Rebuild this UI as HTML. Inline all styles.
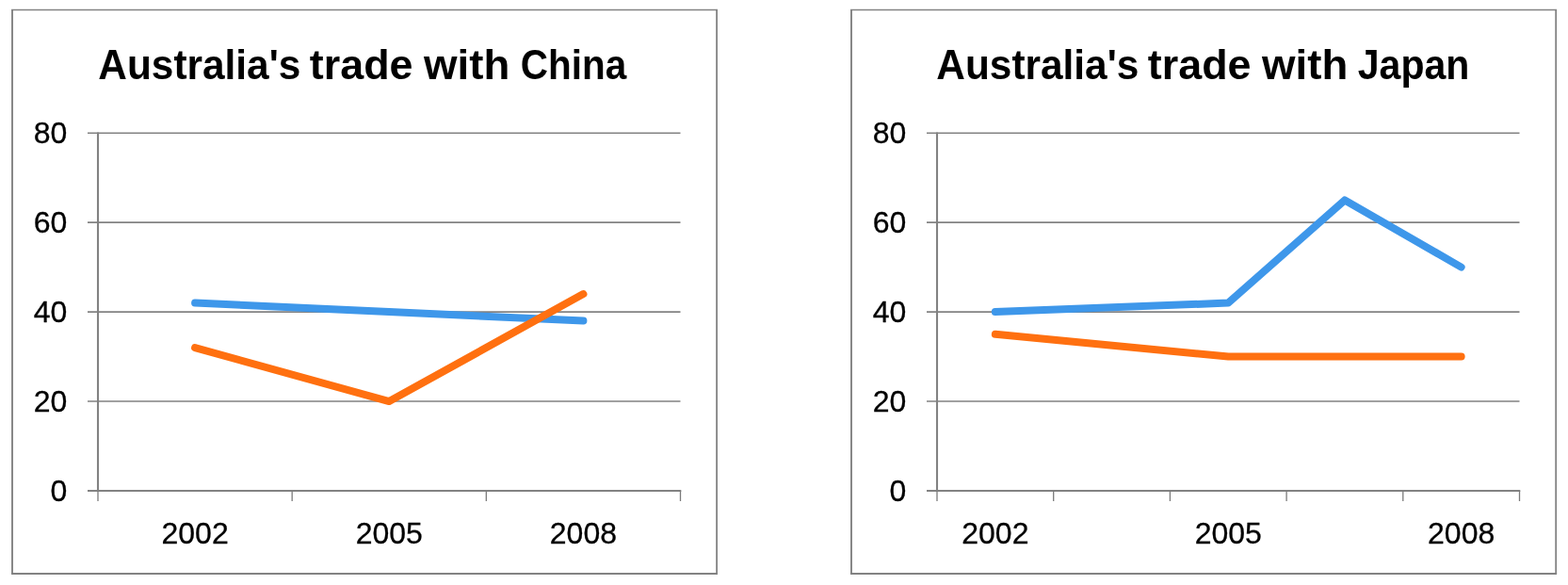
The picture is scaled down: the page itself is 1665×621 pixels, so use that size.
<!DOCTYPE html>
<html lang="en"><head><meta charset="utf-8"><title>Australia's trade</title>
<style>
html,body{margin:0;padding:0;background:#fff;}
body{width:1665px;height:621px;overflow:hidden;}
svg{display:block;}
text{font-family:"Liberation Sans",sans-serif;fill:#000;}
.ax{font-size:32px;stroke:#000;stroke-width:0.3px;}
.ti{font-size:45.2px;font-weight:bold;}
</style></head><body>
<svg width="1665" height="621" viewBox="0 0 1665 621">
<rect width="1665" height="621" fill="#fff"/>
<rect x="13" y="10.5" width="748.1" height="598.5" fill="#fff"/>
<line x1="12.05" y1="10.5" x2="762.0" y2="10.5" stroke="#828282" stroke-width="1.5"/>
<line x1="12.05" y1="609" x2="762.0" y2="609" stroke="#828282" stroke-width="2"/>
<line x1="13" y1="10.5" x2="13" y2="609" stroke="#828282" stroke-width="1.9"/>
<line x1="761.1" y1="10.5" x2="761.1" y2="609" stroke="#828282" stroke-width="1.8"/>
<line x1="93" y1="426.05" x2="722.5" y2="426.05" stroke="#828282" stroke-width="1.6"/>
<line x1="93" y1="331.10" x2="722.5" y2="331.10" stroke="#828282" stroke-width="1.6"/>
<line x1="93" y1="236.15" x2="722.5" y2="236.15" stroke="#828282" stroke-width="1.6"/>
<line x1="93" y1="141.20" x2="722.5" y2="141.20" stroke="#828282" stroke-width="1.6"/>
<line x1="93" y1="521.0" x2="723.3" y2="521.0" stroke="#828282" stroke-width="1.9"/>
<line x1="104" y1="140.39999999999998" x2="104" y2="521.0" stroke="#828282" stroke-width="2.1"/>
<line x1="104.00" y1="521.0" x2="104.00" y2="532.0" stroke="#7a7a7a" stroke-width="1.3"/>
<line x1="310.17" y1="521.0" x2="310.17" y2="532.0" stroke="#7a7a7a" stroke-width="1.3"/>
<line x1="516.33" y1="521.0" x2="516.33" y2="532.0" stroke="#7a7a7a" stroke-width="1.3"/>
<line x1="722.50" y1="521.0" x2="722.50" y2="532.0" stroke="#7a7a7a" stroke-width="1.3"/>
<text class="ax" x="71.4" y="531.80" text-anchor="end">0</text>
<text class="ax" x="71.4" y="436.85" text-anchor="end">20</text>
<text class="ax" x="71.4" y="341.90" text-anchor="end">40</text>
<text class="ax" x="71.4" y="246.95" text-anchor="end">60</text>
<text class="ax" x="71.4" y="152.00" text-anchor="end">80</text>
<text class="ax" x="207.08" y="577" text-anchor="middle">2002</text>
<text class="ax" x="413.25" y="577" text-anchor="middle">2005</text>
<text class="ax" x="619.42" y="577" text-anchor="middle">2008</text>
<polyline points="207.08,321.61 413.25,331.10 619.42,340.60" fill="none" stroke="#3E97EA" stroke-width="8" stroke-linecap="round" stroke-linejoin="round"/>
<polyline points="207.08,369.08 413.25,426.05 619.42,312.11" fill="none" stroke="#FF7010" stroke-width="8" stroke-linecap="round" stroke-linejoin="round"/>
<text class="ti" x="104.36" y="84" textLength="214.95" lengthAdjust="spacingAndGlyphs">Australia's</text>
<text class="ti" x="328.81" y="84" textLength="109.68" lengthAdjust="spacingAndGlyphs">trade</text>
<text class="ti" x="450.0" y="84" textLength="91.28" lengthAdjust="spacingAndGlyphs">with</text>
<text class="ti" x="552.81" y="84" textLength="112.47" lengthAdjust="spacingAndGlyphs">China</text>
<rect x="904" y="10.5" width="748.2" height="598.5" fill="#fff"/>
<line x1="903.05" y1="10.5" x2="1653.1" y2="10.5" stroke="#828282" stroke-width="1.5"/>
<line x1="903.05" y1="609" x2="1653.1" y2="609" stroke="#828282" stroke-width="2"/>
<line x1="904" y1="10.5" x2="904" y2="609" stroke="#828282" stroke-width="1.9"/>
<line x1="1652.2" y1="10.5" x2="1652.2" y2="609" stroke="#828282" stroke-width="1.8"/>
<line x1="984" y1="426.05" x2="1613.5" y2="426.05" stroke="#828282" stroke-width="1.6"/>
<line x1="984" y1="331.10" x2="1613.5" y2="331.10" stroke="#828282" stroke-width="1.6"/>
<line x1="984" y1="236.15" x2="1613.5" y2="236.15" stroke="#828282" stroke-width="1.6"/>
<line x1="984" y1="141.20" x2="1613.5" y2="141.20" stroke="#828282" stroke-width="1.6"/>
<line x1="984" y1="521.0" x2="1614.3" y2="521.0" stroke="#828282" stroke-width="1.9"/>
<line x1="995" y1="140.39999999999998" x2="995" y2="521.0" stroke="#828282" stroke-width="2.1"/>
<line x1="995.00" y1="521.0" x2="995.00" y2="532.0" stroke="#7a7a7a" stroke-width="1.3"/>
<line x1="1118.70" y1="521.0" x2="1118.70" y2="532.0" stroke="#7a7a7a" stroke-width="1.3"/>
<line x1="1242.40" y1="521.0" x2="1242.40" y2="532.0" stroke="#7a7a7a" stroke-width="1.3"/>
<line x1="1366.10" y1="521.0" x2="1366.10" y2="532.0" stroke="#7a7a7a" stroke-width="1.3"/>
<line x1="1489.80" y1="521.0" x2="1489.80" y2="532.0" stroke="#7a7a7a" stroke-width="1.3"/>
<line x1="1613.50" y1="521.0" x2="1613.50" y2="532.0" stroke="#7a7a7a" stroke-width="1.3"/>
<text class="ax" x="962.4" y="531.80" text-anchor="end">0</text>
<text class="ax" x="962.4" y="436.85" text-anchor="end">20</text>
<text class="ax" x="962.4" y="341.90" text-anchor="end">40</text>
<text class="ax" x="962.4" y="246.95" text-anchor="end">60</text>
<text class="ax" x="962.4" y="152.00" text-anchor="end">80</text>
<text class="ax" x="1056.85" y="577" text-anchor="middle">2002</text>
<text class="ax" x="1304.25" y="577" text-anchor="middle">2005</text>
<text class="ax" x="1551.65" y="577" text-anchor="middle">2008</text>
<polyline points="1056.85,331.10 1304.25,321.61 1427.95,212.41 1551.65,283.62" fill="none" stroke="#3E97EA" stroke-width="8" stroke-linecap="round" stroke-linejoin="round"/>
<polyline points="1056.85,354.84 1304.25,378.57 1427.95,378.57 1551.65,378.57" fill="none" stroke="#FF7010" stroke-width="8" stroke-linecap="round" stroke-linejoin="round"/>
<text class="ti" x="994.36" y="84" textLength="214.95" lengthAdjust="spacingAndGlyphs">Australia's</text>
<text class="ti" x="1218.81" y="84" textLength="109.68" lengthAdjust="spacingAndGlyphs">trade</text>
<text class="ti" x="1340.0" y="84" textLength="91.28" lengthAdjust="spacingAndGlyphs">with</text>
<text class="ti" x="1441.79" y="84" textLength="118.68" lengthAdjust="spacingAndGlyphs">Japan</text>
</svg>
</body></html>
